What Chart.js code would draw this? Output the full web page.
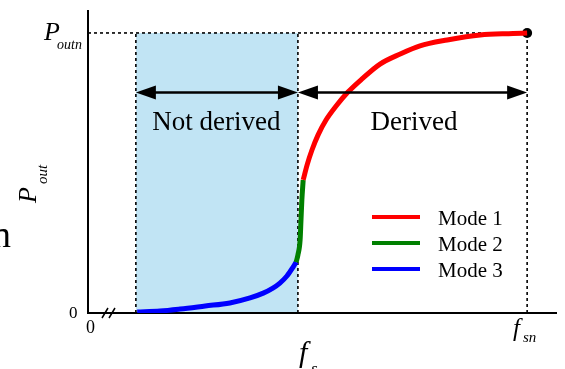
<!DOCTYPE html>
<html>
<head>
<meta charset="utf-8">
<script src="https://cdn.jsdelivr.net/npm/chart.js@4/dist/chart.umd.min.js"></script>
<style>
  html, body { margin: 0; padding: 0; background: #fff; }
</style>
</head>
<body>
<canvas id="chart" width="565" height="369"></canvas>
<script>
// x: switching frequency fs normalised to fsn, y: output power normalised to Poutn
const mode3X = [0.112, 0.164, 0.21, 0.267, 0.323, 0.369, 0.399, 0.421, 0.437, 0.453, 0.467, 0.474];
const mode3Y = [0.004, 0.007, 0.014, 0.025, 0.036, 0.054, 0.071, 0.089, 0.107, 0.132, 0.164, 0.182];
const mode2X = [0.474, 0.478, 0.483, 0.485, 0.487, 0.49];
const mode2Y = [0.182, 0.207, 0.261, 0.332, 0.404, 0.475];
const mode1X = [0.49, 0.499, 0.51, 0.524, 0.542, 0.565, 0.592, 0.624, 0.665, 0.711, 0.756, 0.818, 0.893, 0.968, 1.0];
const mode1Y = [0.475, 0.529, 0.582, 0.636, 0.689, 0.739, 0.789, 0.836, 0.889, 0.925, 0.954, 0.975, 0.993, 0.998, 1.0];

const modeLabels = ["Mode 1", "Mode 2", "Mode 3"];
const modeColors = ["#ff0000", "#008000", "#0000ff"];

// region boundaries
const notDerivedStart = 0.109;
const fsBoundary = 0.478;
const fsn = 1.0;
const poutn = 1.0;

const xMax = 1.068;
const yMax = 1.082;

const serif = "'Liberation Serif', 'Times New Roman', serif";

function pts(xs, ys) {
  return xs.map((x, i) => ({ x: x, y: ys[i] }));
}

const dash = {
  borderColor: "#000",
  borderWidth: 1.6,
  borderDash: [3, 3],
  pointRadius: 0,
  fill: false,
};

const curve = {
  borderWidth: 5,
  pointRadius: 0,
  fill: false,
  cubicInterpolationMode: "monotone",
  borderCapStyle: "butt",
};

function arrow(ctx, x1, x2, y) {
  const head = 20, half = 7;
  ctx.save();
  ctx.strokeStyle = "#000";
  ctx.fillStyle = "#000";
  ctx.lineWidth = 2.5;
  ctx.beginPath();
  ctx.moveTo(x1 + head - 2, y);
  ctx.lineTo(x2 - head + 2, y);
  ctx.stroke();
  ctx.beginPath();
  ctx.moveTo(x1, y);
  ctx.lineTo(x1 + head, y - half);
  ctx.lineTo(x1 + head, y + half);
  ctx.closePath();
  ctx.fill();
  ctx.beginPath();
  ctx.moveTo(x2, y);
  ctx.lineTo(x2 - head, y - half);
  ctx.lineTo(x2 - head, y + half);
  ctx.closePath();
  ctx.fill();
  ctx.restore();
}

const decorations = {
  id: "decorations",
  // axes go on top of the shaded band but under the curves
  afterDatasetDraw(chart, args) {
    if (args.index !== chart.data.datasets.length - 1) return;
    const ctx = chart.ctx;
    const a = chart.chartArea;
    ctx.save();
    ctx.strokeStyle = "#000";
    ctx.lineWidth = 2;
    ctx.beginPath();
    ctx.moveTo(a.left, a.top);
    ctx.lineTo(a.left, a.bottom);
    ctx.lineTo(a.right, a.bottom);
    ctx.stroke();
    // axis break
    ctx.lineWidth = 1.5;
    ctx.beginPath();
    ctx.moveTo(a.left + 14, a.bottom + 5);
    ctx.lineTo(a.left + 20, a.bottom - 5);
    ctx.moveTo(a.left + 21, a.bottom + 5);
    ctx.lineTo(a.left + 27, a.bottom - 5);
    ctx.stroke();
    ctx.restore();
  },
  afterDatasetsDraw(chart) {
    const ctx = chart.ctx;
    const x = chart.scales.x, y = chart.scales.y;
    const xs0 = x.getPixelForValue(notDerivedStart);
    const xb = x.getPixelForValue(fsBoundary);
    const xn = x.getPixelForValue(fsn);
    const yArrow = y.getPixelForValue(0.787);

    arrow(ctx, xs0, xb, yArrow);
    arrow(ctx, xb, xn, yArrow);

    ctx.save();
    ctx.fillStyle = "#000";
    ctx.textBaseline = "alphabetic";
    ctx.textAlign = "center";
    ctx.font = "27px " + serif;
    ctx.fillText("Not derived", (xs0 + xb) / 2 - 0.5, 130);
    ctx.fillText("Derived", 414, 130);

    // legend
    ctx.textAlign = "left";
    ctx.font = "21px " + serif;
    modeLabels.forEach((lbl, i) => {
      const ly = 217 + i * 26;
      ctx.strokeStyle = modeColors[i];
      ctx.lineWidth = 4;
      ctx.beginPath();
      ctx.moveTo(372, ly);
      ctx.lineTo(420, ly);
      ctx.stroke();
      ctx.fillText(lbl, 438, ly + 8);
    });

    // y tick / title
    ctx.font = "italic 26px " + serif;
    ctx.fillText("P", 44, 40);
    ctx.font = "italic 14px " + serif;
    ctx.fillText("outn", 57, 49);

    ctx.font = "17px " + serif;
    ctx.fillText("0", 69, 318);
    ctx.font = "18px " + serif;
    ctx.fillText("0", 86, 333);

    ctx.font = "italic 30px " + serif;
    ctx.fillText("f", 299, 362);
    ctx.font = "italic 17px " + serif;
    ctx.fillText("s", 311, 374);

    ctx.font = "italic 25px " + serif;
    ctx.fillText("f", 513, 336);
    ctx.font = "italic 15px " + serif;
    ctx.fillText("sn", 523, 342);

    ctx.save();
    ctx.translate(36, 203);
    ctx.rotate(-Math.PI / 2);
    ctx.font = "italic 26px " + serif;
    ctx.fillText("P", 0, 0);
    ctx.font = "italic 15px " + serif;
    ctx.fillText("out", 19, 11);
    ctx.restore();

    // stray glyph at the left edge of the crop
    ctx.font = "38px " + serif;
    ctx.fillText("n", -8, 247);
    ctx.restore();
  },
};

new Chart(document.getElementById("chart"), {
  type: "line",
  data: {
    datasets: [
      { ...curve, label: modeLabels[0], borderColor: modeColors[0], data: pts(mode1X, mode1Y) },
      { ...curve, label: modeLabels[1], borderColor: modeColors[1], data: pts(mode2X, mode2Y) },
      { ...curve, label: modeLabels[2], borderColor: modeColors[2], data: pts(mode3X, mode3Y) },
      {
        label: "end",
        data: [{ x: fsn, y: poutn }],
        pointRadius: 5,
        pointBackgroundColor: "#000",
        pointBorderWidth: 0,
        showLine: false,
      },
      { ...dash, label: "Poutn", data: [{ x: 0, y: poutn }, { x: fsn, y: poutn }] },
      { ...dash, label: "start", data: [{ x: notDerivedStart, y: 0 }, { x: notDerivedStart, y: poutn }] },
      { ...dash, label: "fs", data: [{ x: fsBoundary, y: 0 }, { x: fsBoundary, y: poutn }] },
      { ...dash, label: "fsn", data: [{ x: fsn, y: 0 }, { x: fsn, y: poutn }] },
      {
        label: "not derived",
        data: [{ x: notDerivedStart, y: poutn }, { x: fsBoundary, y: poutn }],
        borderWidth: 0,
        pointRadius: 0,
        fill: "origin",
        backgroundColor: "rgb(193, 228, 244)",
      },
    ],
  },
  options: {
    responsive: false,
    animation: false,
    layout: { padding: { left: 88, right: 8, top: 10, bottom: 56 } },
    scales: {
      x: { type: "linear", min: 0, max: xMax, display: false },
      y: { type: "linear", min: 0, max: yMax, display: false },
    },
    plugins: {
      legend: { display: false },
      tooltip: { enabled: false },
    },
  },
  plugins: [decorations],
});
</script>
</body>
</html>
